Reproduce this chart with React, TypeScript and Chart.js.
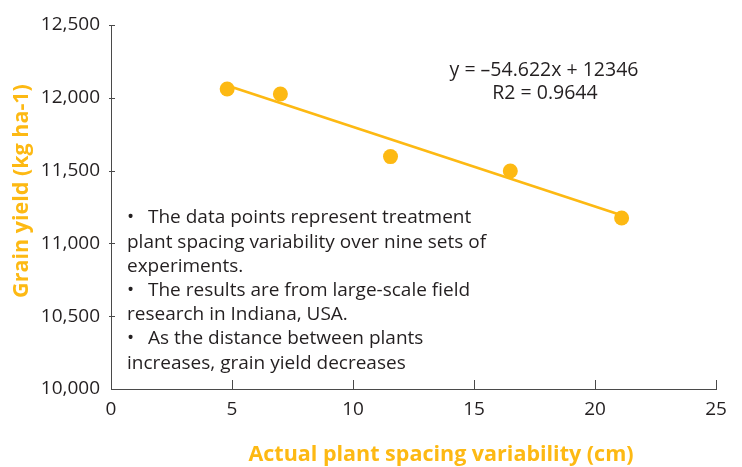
import React, { useEffect, useRef } from "react";
import { Chart, registerables } from "chart.js";

Chart.register(...registerables);

const spacingX = [4.8, 7.0, 11.55, 16.5, 21.1];
const yieldY = [12060, 12026, 11596, 11497, 11174];
const trendX = [4.8, 21.1];
const trendY = [12084, 11193];
const xTicks = [0, 5, 10, 15, 20, 25];
const yTicks = [10000, 10500, 11000, 11500, 12000, 12500];
const equationLines = ["y = \u201354.622x + 12346", "R2 = 0.9644"];
// [hasBullet, text]
const noteLines: [boolean, string][] = [
  [true, "The data points represent treatment"],
  [false, "plant spacing variability over nine sets of"],
  [false, "experiments."],
  [true, "The results are from large-scale field"],
  [false, "research in Indiana, USA."],
  [true, "As the distance between plants"],
  [false, "increases, grain yield decreases"],
];
const xTitle = "Actual plant spacing variability (cm)";
const yTitle = "Grain yield (kg ha-1)";

const GOLD = "#FDB913";
const TEXT = "#231F20";
const AXIS = "#4a4a4a";
const FONT = "'Open Sans', Lato, sans-serif";

const overlay = {
  id: "overlay",
  afterDraw(chart: any) {
    const ctx = chart.ctx;
    const xs = chart.scales.x;
    const ys = chart.scales.y;
    const area = chart.chartArea;
    ctx.save();
    ctx.strokeStyle = AXIS;
    ctx.lineWidth = 1;
    ctx.beginPath();
    xTicks.forEach((t) => {
      if (t === 0) return;
      const px = Math.round(xs.getPixelForValue(t)) + 0.5;
      ctx.moveTo(px, area.bottom);
      ctx.lineTo(px, area.bottom - 9);
    });
    yTicks.forEach((t) => {
      if (t === 10000) return;
      const py = Math.round(ys.getPixelForValue(t)) + 0.5;
      ctx.moveTo(area.left - 2, py);
      ctx.lineTo(area.left + 4, py);
    });
    ctx.stroke();

    ctx.fillStyle = TEXT;
    ctx.font = `19.5px ${FONT}`;
    ctx.textAlign = "center";
    ctx.textBaseline = "middle";
    ctx.fillText(equationLines[0], 544, 70);
    ctx.fillText(equationLines[1], 545, 93);

    ctx.font = `19px ${FONT}`;
    ctx.textAlign = "left";
    noteLines.forEach(([b, l], i) => {
      const y = 218 + i * 24.2;
      if (b) {
        ctx.fillText("\u2022", 127, y);
        ctx.fillText(l, 148, y);
      } else {
        ctx.fillText(l, 127, y);
      }
    });

    ctx.fillStyle = GOLD;
    ctx.font = `bold 21.5px ${FONT}`;
    ctx.textAlign = "center";
    ctx.fillText(xTitle, 441, 455);
    ctx.translate(22, 191);
    ctx.rotate(-Math.PI / 2);
    ctx.fillText(yTitle, 0, 0);
    ctx.restore();
  },
};

export default function App() {
  const ref = useRef<HTMLCanvasElement>(null);
  useEffect(() => {
    if (!ref.current) return;
    const chart = new Chart(ref.current, {
      type: "scatter",
      data: {
        datasets: [
          {
            type: "scatter",
            data: spacingX.map((x, i) => ({ x, y: yieldY[i] })),
            backgroundColor: GOLD,
            borderColor: GOLD,
            pointRadius: 7.5,
            pointHoverRadius: 7.5,
            borderWidth: 0,
            order: 1,
          },
          {
            type: "line",
            data: trendX.map((x, i) => ({ x, y: trendY[i] })),
            borderColor: GOLD,
            borderWidth: 2.7,
            pointRadius: 0,
            fill: false,
            order: 2,
          } as any,
        ],
      },
      options: {
        animation: false,
        responsive: false,
        maintainAspectRatio: false,
        layout: { padding: { left: 0, top: 25, right: 26, bottom: 0 } },
        plugins: { legend: { display: false }, tooltip: { enabled: false } },
        scales: {
          x: {
            type: "linear",
            min: 0,
            max: 25,
            afterFit: (s: any) => {
              s.height = 78;
            },
            afterBuildTicks: (s: any) => {
              s.ticks = xTicks.map((v) => ({ value: v }));
            },
            grid: { display: true, drawOnChartArea: false, drawTicks: false },
            border: { display: true, color: AXIS, width: 1 },
            ticks: {
              color: TEXT,
              font: { family: FONT, size: 19 },
              padding: 9,
              maxRotation: 0,
            },
          },
          y: {
            type: "linear",
            min: 10000,
            max: 12500,
            afterFit: (s: any) => {
              s.width = 111;
            },
            afterBuildTicks: (s: any) => {
              s.ticks = yTicks.map((v) => ({ value: v }));
            },
            grid: { display: true, drawOnChartArea: false, drawTicks: false },
            border: { display: true, color: AXIS, width: 1 },
            ticks: {
              color: TEXT,
              font: { family: FONT, size: 19 },
              padding: 11,
              callback: (v: any) => Number(v).toLocaleString("en-US"),
            },
          },
        },
      },
      plugins: [overlay],
    });
    return () => chart.destroy();
  }, []);
  return (
    <div style={{ position: "fixed", left: 0, top: 0, width: 742, height: 467, background: "#fff" }}>
      <canvas ref={ref} width={742} height={467} style={{ width: 742, height: 467 }} />
    </div>
  );
}
